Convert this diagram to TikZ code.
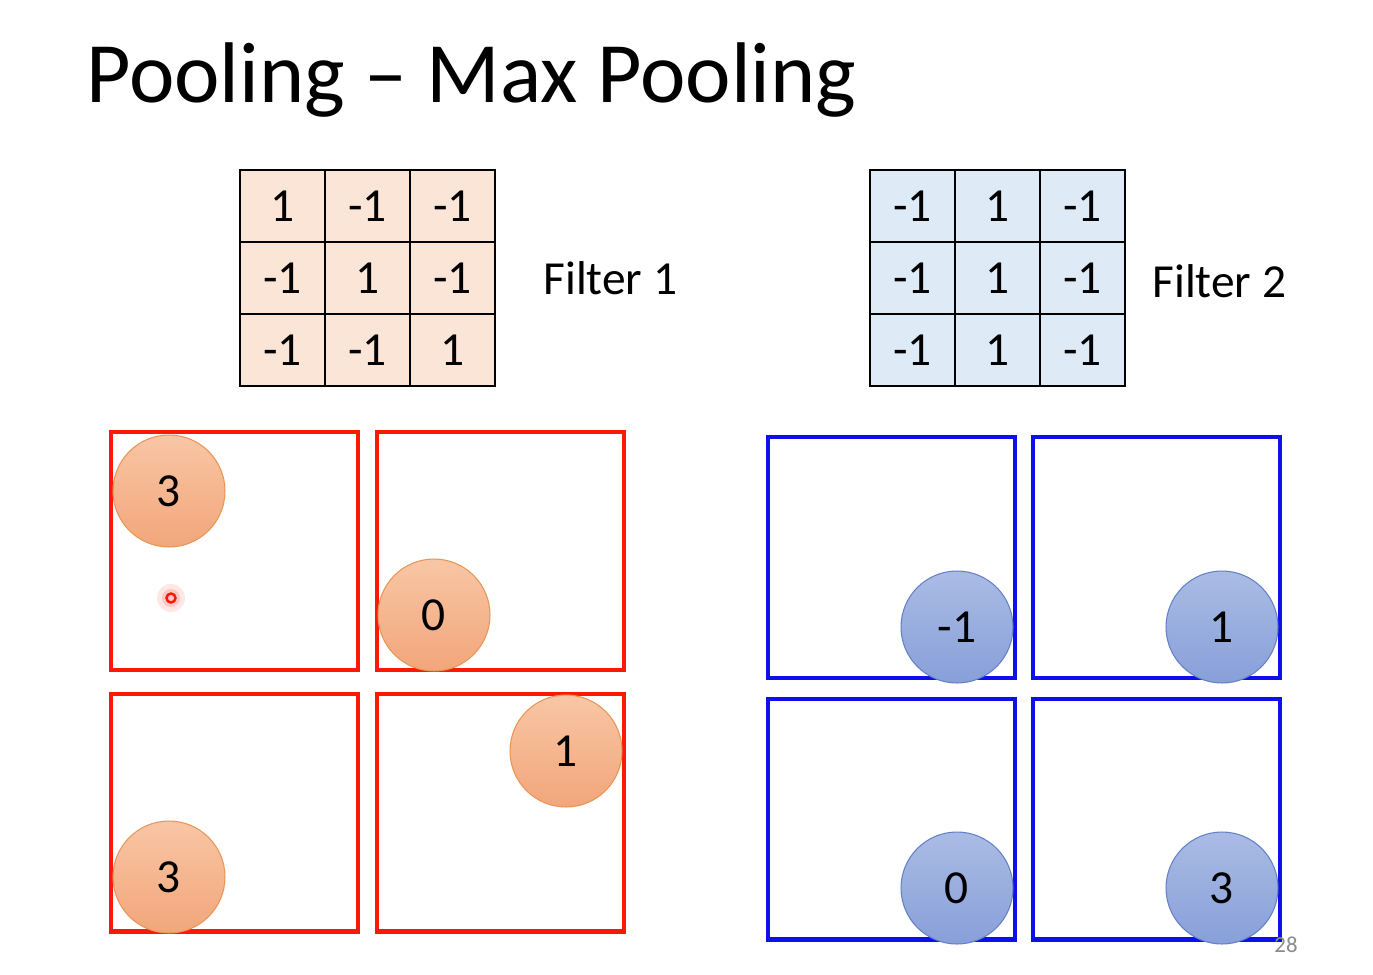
\documentclass[tikz,border=0pt]{standalone}
\usepackage{fontspec}
\setmainfont{Carlito}
\definecolor{fOneFill}{RGB}{251,229,214}
\definecolor{fTwoFill}{RGB}{222,235,247}
\definecolor{poolRed}{RGB}{250,25,5}
\definecolor{poolBlue}{RGB}{15,15,235}
\definecolor{orangeTop}{RGB}{248,198,165}
\definecolor{orangeBot}{RGB}{242,166,122}
\definecolor{orangeEdge}{RGB}{232,150,85}
\definecolor{blueTop}{RGB}{170,188,229}
\definecolor{blueBot}{RGB}{136,159,216}
\definecolor{blueEdge}{RGB}{100,128,200}
\usetikzlibrary{positioning}

\begin{document}
\begin{tikzpicture}[x=0.02cm,y=-0.02cm,
    cell/.style={draw=black, line width=1.2pt, minimum width=1.7cm, minimum height=1.44cm, inner sep=0pt, font=\fontsize{27}{30}\selectfont},
    flabel/.style={inner sep=0pt, font=\fontsize{27}{30}\selectfont},
    redbox/.style={draw=poolRed, line width=2.3pt, minimum width=4.94cm, minimum height=4.76cm, inner sep=0pt},
    bluebox/.style={draw=poolBlue, line width=2.3pt, minimum width=4.94cm, minimum height=4.82cm, inner sep=0pt},
    orangeball/.style={circle, draw=orangeEdge, line width=0.6pt, top color=orangeTop, bottom color=orangeBot, minimum size=2.24cm, inner sep=0pt, font=\fontsize{27}{30}\selectfont},
    blueball/.style={circle, draw=blueEdge, line width=0.6pt, top color=blueTop, bottom color=blueBot, minimum size=2.24cm, inner sep=0pt, font=\fontsize{27}{30}\selectfont}]
    % page
    \useasboundingbox[fill=white] (0,0) rectangle (1373,974);

    % title
    \node[anchor=base west, inner sep=0pt, font=\fontsize{49}{56}\selectfont] (title) at (86,102) {Pooling -- Max Pooling};

    % Filter 1 (diagonal)
    \def\cw{85}
    \def\ch{72}
    \foreach \r/\a/\b/\c in {1/1/-1/-1, 2/-1/1/-1, 3/-1/-1/1} {
        \node[cell, fill=fOneFill] (fa-\r-1) at (282.5, 206+\ch*\r-\ch) {\a};
        \node[cell, fill=fOneFill] (fa-\r-2) at (367.5, 206+\ch*\r-\ch) {\b};
        \node[cell, fill=fOneFill] (fa-\r-3) at (452.5, 206+\ch*\r-\ch) {\c};
    }
    \node[flabel, anchor=west, right=0.94cm of fa-2-3.east] (fa-label) {Filter 1};

    % Filter 2 (vertical)
    \foreach \r in {1,2,3} {
        \node[cell, fill=fTwoFill] (fb-\r-1) at (912.5, 206+\ch*\r-\ch) {-1};
        \node[cell, fill=fTwoFill] (fb-\r-2) at (997.5, 206+\ch*\r-\ch) {1};
        \node[cell, fill=fTwoFill] (fb-\r-3) at (1082.5, 206+\ch*\r-\ch) {-1};
    }
    \node[flabel, anchor=west, right=0.52cm of fb-2-3.east, yshift=-2pt] (fb-label) {Filter 2};

    % pooled maps, filter 1
    \node[redbox] (ra) at (234.5, 551) {};
    \node[redbox] (rb) at (500.5, 551) {};
    \node[redbox] (rc) at (234.5, 812.5) {};
    \node[redbox] (rd) at (500.5, 812.5) {};

    % pooled maps, filter 2
    \node[bluebox] (ba) at (891.5, 557.5) {};
    \node[bluebox] (bb) at (1156.5, 557.5) {};
    \node[bluebox] (bc) at (891.5, 819) {};
    \node[bluebox] (bd) at (1156.5, 819) {};

    % max values
    \node[orangeball] (ma) at (169, 491) {3};
    \node[orangeball] (mb) at (434, 615) {0};
    \node[orangeball] (mc) at (169, 877) {3};
    \node[orangeball] (md) at (566, 751) {1};
    \node[blueball] (na) at (957, 627) {-1};
    \node[blueball] (nb) at (1222, 627) {1};
    \node[blueball] (nc) at (957, 888) {0};
    \node[blueball] (nd) at (1222, 888) {3};

    % pointer
    \fill[poolRed, opacity=0.10] (171,598) circle (14);
    \fill[poolRed, opacity=0.15] (171,598) circle (9);
    \draw[poolRed, line width=1.4pt] (171,598) circle (4.5);

    % slide number
    \node[anchor=base, inner sep=0pt, text=black!45, font=\fontsize{13}{15}\selectfont] (page) at (1286,952) {28};
\end{tikzpicture}
\end{document}
